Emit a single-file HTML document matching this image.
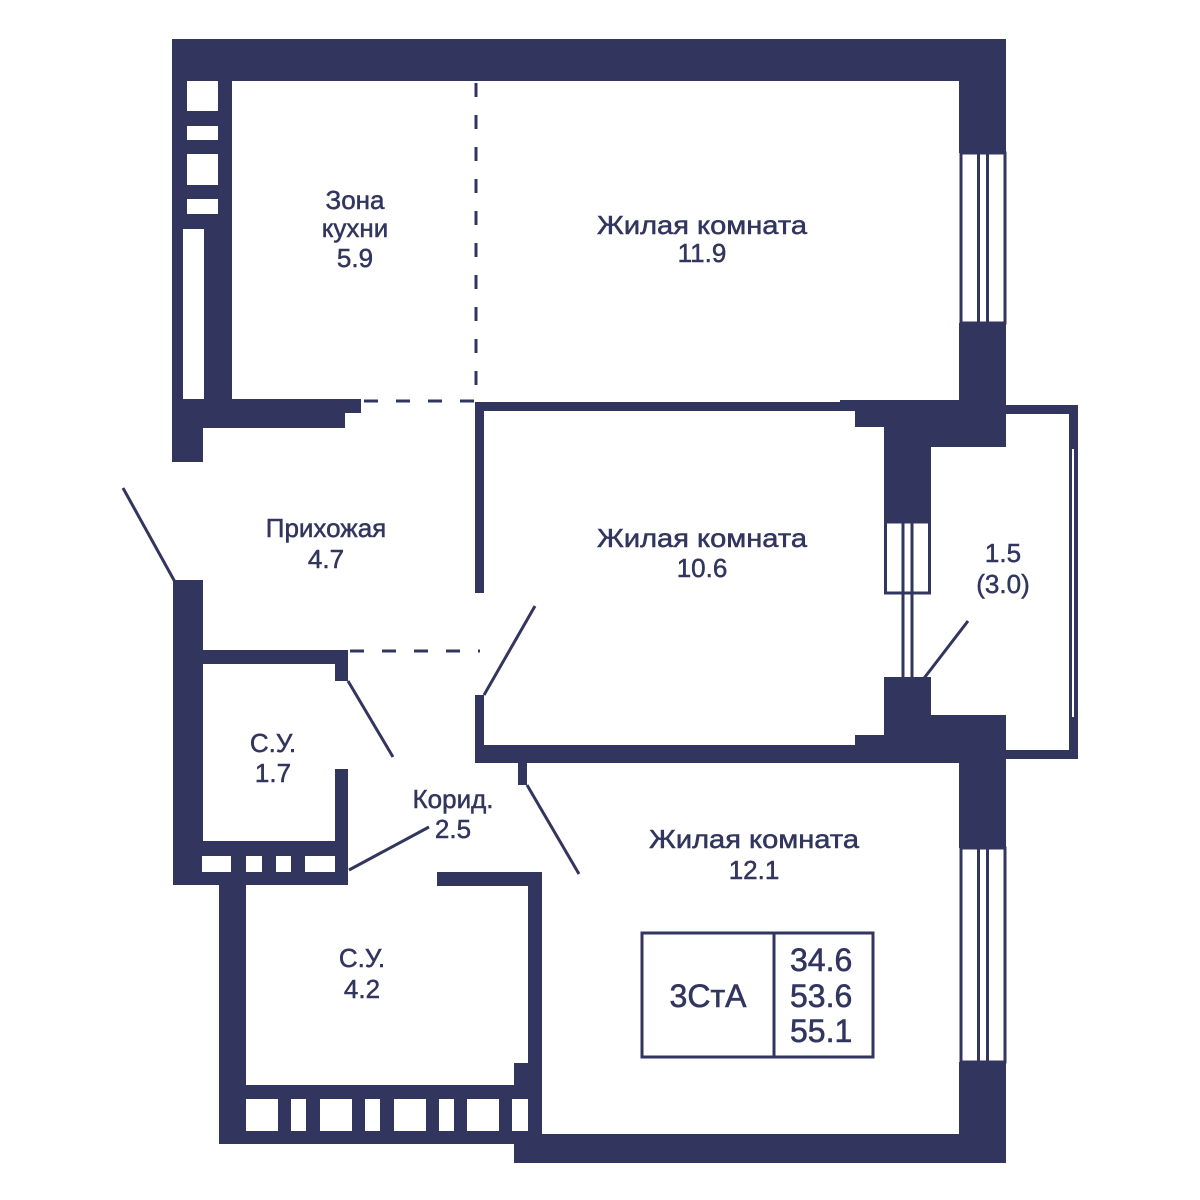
<!DOCTYPE html>
<html><head><meta charset="utf-8"><style>
html,body{margin:0;padding:0;background:#fff;}
svg{display:block}
text{font-family:"Liberation Sans",sans-serif;fill:#32365f;}
</style></head><body>
<svg width="1200" height="1200" viewBox="0 0 1200 1200" xmlns="http://www.w3.org/2000/svg">
<g fill="#32365f">
<rect x="172" y="39" width="834" height="42"/>
<rect x="172" y="39" width="60" height="191"/>
<rect x="172" y="229" width="11" height="233"/>
<rect x="204" y="229" width="28" height="199"/>
<rect x="172" y="399" width="173" height="29"/>
<rect x="173" y="399" width="30" height="63"/>
<rect x="345" y="399" width="16" height="14"/>
<rect x="959" y="39" width="47" height="114"/>
<rect x="959" y="323" width="47" height="124"/>
<rect x="840" y="400" width="166" height="9"/>
<rect x="855" y="409" width="151" height="18"/>
<rect x="884" y="427" width="122" height="20"/>
<rect x="884" y="447" width="47" height="75"/>
<rect x="884" y="677" width="47" height="40"/>
<rect x="884" y="715" width="122" height="20"/>
<rect x="855" y="735" width="151" height="28"/>
<rect x="959" y="735" width="47" height="113"/>
<rect x="959" y="1062" width="47" height="101"/>
<rect x="475" y="402" width="380" height="9"/>
<rect x="475" y="402" width="9" height="191"/>
<rect x="475" y="695" width="9" height="60"/>
<rect x="475" y="745" width="380" height="9"/>
<rect x="475" y="753" width="380" height="10"/>
<rect x="518" y="763" width="9" height="22"/>
<rect x="1006" y="405" width="72" height="9"/>
<rect x="1069" y="405" width="9" height="354"/>
<rect x="1006" y="750" width="72" height="9"/>
<rect x="173" y="580" width="30" height="303"/>
<rect x="173" y="650" width="175" height="14"/>
<rect x="335" y="650" width="13" height="31"/>
<rect x="335" y="769" width="13" height="116"/>
<rect x="173" y="841" width="175" height="44"/>
<rect x="219" y="872" width="27" height="272"/>
<rect x="437" y="872" width="105" height="14"/>
<rect x="528" y="872" width="14" height="272"/>
<rect x="219" y="1085" width="323" height="59"/>
<rect x="514" y="1134" width="492" height="29"/>
<rect x="514" y="1063" width="28" height="100"/>
</g>
<g fill="#fff">
<rect x="187" y="81" width="31" height="30"/>
<rect x="187" y="126" width="31" height="14"/>
<rect x="187" y="154" width="31" height="31"/>
<rect x="187" y="199" width="31" height="15"/>
<rect x="183" y="229" width="21" height="170"/>
<rect x="202" y="856" width="29" height="16"/>
<rect x="246" y="856" width="16" height="16"/>
<rect x="276" y="856" width="15" height="16"/>
<rect x="305" y="856" width="30" height="16"/>
<rect x="246" y="1099" width="32" height="32"/>
<rect x="291" y="1099" width="15" height="32"/>
<rect x="320" y="1099" width="32" height="32"/>
<rect x="365" y="1099" width="15" height="32"/>
<rect x="394" y="1099" width="32" height="32"/>
<rect x="439" y="1099" width="15" height="32"/>
<rect x="467" y="1099" width="32" height="32"/>
<rect x="512" y="1099" width="16" height="32"/>
</g>
<g fill="none" stroke="#32365f" stroke-width="3">
<rect x="961" y="153" width="44" height="170"/>
<line x1="978.5" y1="153" x2="978.5" y2="323"/>
<line x1="987.5" y1="153" x2="987.5" y2="323"/>
<rect x="961" y="848" width="44" height="214"/>
<line x1="978.5" y1="848" x2="978.5" y2="1062"/>
<line x1="987.5" y1="848" x2="987.5" y2="1062"/>
<rect x="885.5" y="522" width="44" height="71"/>
<line x1="903" y1="522" x2="903" y2="677"/>
<line x1="912" y1="522" x2="912" y2="677"/>
<line x1="1073" y1="449" x2="1073" y2="717" stroke="#fff" stroke-width="2"/>
</g>
<g stroke="#32365f" stroke-width="3" fill="none">
<line x1="123" y1="488" x2="175" y2="582"/>
<line x1="535" y1="606" x2="484" y2="695"/>
<line x1="348" y1="681" x2="393" y2="757"/>
<line x1="349" y1="870" x2="429" y2="827"/>
<line x1="527" y1="785" x2="579" y2="874"/>
<line x1="915" y1="690" x2="968" y2="621"/>
</g>
<g stroke="#32365f" stroke-width="3" fill="none" stroke-dasharray="14,18">
<line x1="476" y1="83" x2="476" y2="399"/>
<line x1="364" y1="401" x2="475" y2="401"/>
<line x1="350" y1="651" x2="480" y2="651"/>
</g>
<g fill="none" stroke="#32365f" stroke-width="3">
<rect x="642" y="933" width="231" height="124"/>
<line x1="774" y1="933" x2="774" y2="1057"/>
</g>
<g font-size="26" text-anchor="middle" stroke="#32365f" stroke-width="0.5">
<text x="355" y="209">Зона</text>
<text x="355" y="237">кухни</text>
<text x="355" y="267">5.9</text>
<text x="702" y="234" textLength="210" lengthAdjust="spacingAndGlyphs">Жилая комната</text>
<text x="702" y="262">11.9</text>
<text x="702" y="547" textLength="210" lengthAdjust="spacingAndGlyphs">Жилая комната</text>
<text x="702" y="577">10.6</text>
<text x="326" y="537">Прихожая</text>
<text x="326" y="568">4.7</text>
<text x="1003" y="562">1.5</text>
<text x="1003" y="593">(3.0)</text>
<text x="273" y="752">С.У.</text>
<text x="273" y="782">1.7</text>
<text x="453" y="808">Корид.</text>
<text x="453" y="838">2.5</text>
<text x="754" y="848" textLength="210" lengthAdjust="spacingAndGlyphs">Жилая комната</text>
<text x="754" y="879">12.1</text>
<text x="362" y="967">С.У.</text>
<text x="362" y="998">4.2</text>
</g>
<g font-size="32" stroke="#32365f" stroke-width="0.6">
<text x="708" y="1007" text-anchor="middle">3СтА</text>
<text x="790" y="971">34.6</text>
<text x="790" y="1007">53.6</text>
<text x="790" y="1042">55.1</text>
</g>
</svg>
</body></html>
